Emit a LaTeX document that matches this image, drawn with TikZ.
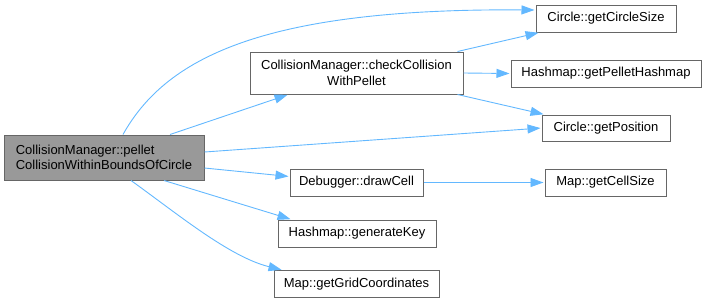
\documentclass[tikz,border=0pt]{standalone}
\usepackage{fontspec}
\setmainfont{Liberation Sans}
\usepackage{xcolor}
\usetikzlibrary{positioning,arrows.meta}
\definecolor{edgeblue}{HTML}{63B8FF}
\definecolor{boxgray}{HTML}{666666}
\definecolor{callerfill}{HTML}{999999}

\begin{document}
\begin{tikzpicture}[x=1pt, y=-1pt, >={Triangle[length=13pt, width=9pt]},
  fn/.style={draw=boxgray, line width=1pt, fill=white, inner sep=0pt,
    font=\fontsize{13}{15.5}\selectfont, minimum height=27pt, align=center},
  caller/.style={fn, fill=callerfill, align=left},
  call/.style={->, draw=edgeblue, line width=0.9pt, shorten >=1pt}]

\useasboundingbox (0,0) rectangle (707,303);

% caller and its direct callees
\node[caller, minimum width=200pt, minimum height=45pt] (pellet) at (104,157.5)
  {CollisionManager::pellet\\CollisionWithinBoundsOfCircle};
\node[fn, minimum width=213pt, minimum height=42pt] (check) at (356.5,73)
  {CollisionManager::checkCollision\\WithPellet};
\node[fn, minimum width=133pt] (drawcell) at (356.5,182.5) {Debugger::drawCell};
\node[fn, minimum width=158pt] (genkey) at (357,233.5) {Hashmap::generateKey};
\node[fn, minimum width=165pt] (gridcoord) at (356.5,284) {Map::getGridCoordinates};

% leaf functions
\node[fn, minimum width=140pt] (circlesize) at (606,18.5) {Circle::getCircleSize};
\node[fn, minimum width=190pt] (pellethash) at (606,73.5) {Hashmap::getPelletHashmap};
\node[fn, minimum width=128pt, minimum height=26pt] (getpos) at (606,128) {Circle::getPosition};
\node[fn, minimum width=121pt] (cellsize) at (605.5,182.5) {Map::getCellSize};

\draw[call] ([xshift=19pt]pellet.north) .. controls +(42,-75) and +(-276,-2) .. ([yshift=8.5pt]circlesize.west);
\draw[call] ([xshift=66pt]pellet.north) -- ([xshift=-68pt]check.south);
\draw[call] ([yshift=5.5pt]pellet.east) -- (getpos.west);
\draw[call] ([yshift=-10.5pt]pellet.east) -- ([yshift=6pt]drawcell.west);
\draw[call] ([xshift=60pt]pellet.south) -- ([xshift=14pt]genkey.north west);
\draw[call] ([xshift=27pt]pellet.south) .. controls +(46,33) and +(-53,-13) .. ([xshift=9pt]gridcoord.north west);

\draw[call] ([xshift=-6pt]check.north east) -- ([xshift=4pt]circlesize.south west);
\draw[call] (check.east) -- (pellethash.west);
\draw[call] ([xshift=-6pt]check.south east) -- ([xshift=3pt]getpos.north west);

\draw[call] (drawcell.east) -- (cellsize.west);

\end{tikzpicture}
\end{document}
